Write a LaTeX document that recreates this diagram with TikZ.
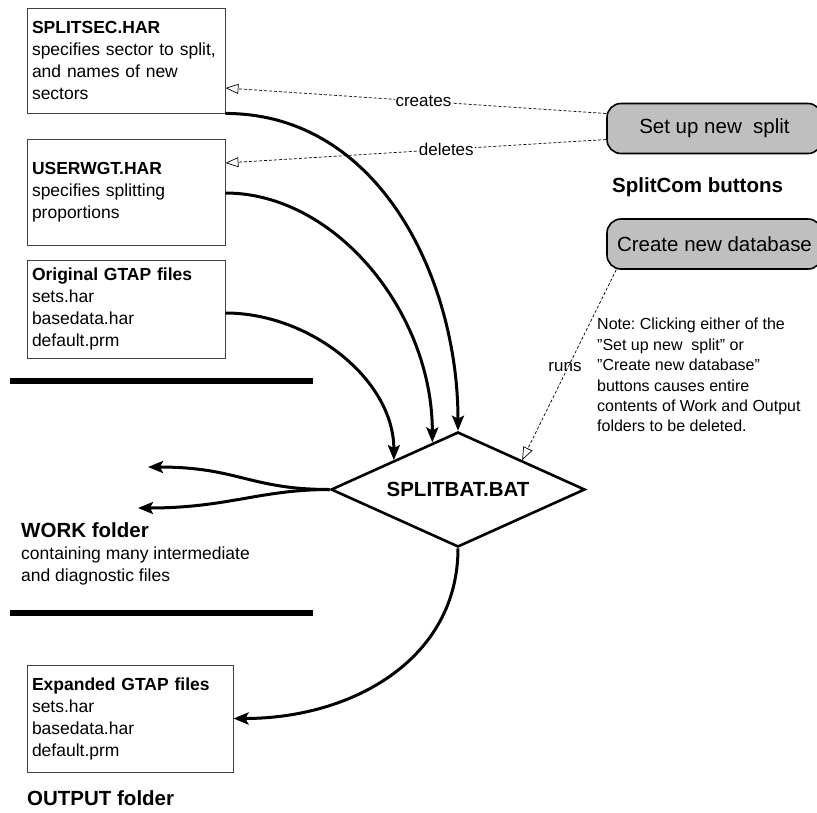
\documentclass[tikz,border=0pt]{standalone}
\usepackage{fontspec}
\setmainfont{Liberation Sans}
\usetikzlibrary{shapes.geometric,arrows.meta,calc}
\frenchspacing
\newcommand{\qq}{\symbol{"22}}
\begin{document}
\begin{tikzpicture}[x=1pt,y=-1pt,
  filebox/.style={draw=black!75, line width=0.9pt, rectangle, inner xsep=5pt, inner ysep=3pt, align=left, font=\fontsize{17.5}{22}\selectfont},
  btn/.style={draw=black, line width=1.6pt, fill=gray!50, rounded corners=14pt, minimum width=215pt, minimum height=50pt, font=\fontsize{20.5}{24}\selectfont},
  flow/.style={line width=3pt, -{Stealth[length=15pt,width=12pt,inset=3pt]}},
  ctl/.style={line width=0.7pt, dash pattern=on 3pt off 2pt, -{Triangle[open,length=13pt,width=10pt]}},
  lbl/.style={fill=white, inner sep=1pt, font=\fontsize{17}{20}\selectfont},
  heading/.style={font=\bfseries\fontsize{20.5}{24}\selectfont, anchor=west, inner sep=0pt},
  plain/.style={font=\fontsize{17.5}{22}\selectfont, anchor=west, inner sep=0pt, align=left},
  rulebar/.style={line width=6pt}
]
\useasboundingbox (0,0) rectangle (817,812);

% file boxes
\node[filebox, text width=188pt, minimum height=105pt] (b1) at (126,60.5)
  {\textbf{SPLITSEC.HAR}\\specifies sector to split,\\and names of new\\sectors};
\node[filebox, text width=188pt, minimum height=106pt] (b2) at (126,192)
  {\textbf{USERWGT.HAR}\\specifies splitting\\proportions};
\node[filebox, text width=188pt, minimum height=98pt] (b3) at (126,309)
  {\textbf{Original GTAP files}\\sets.har\\basedata.har\\default.prm};
\node[filebox, text width=196pt, minimum height=107pt] (b4) at (130,718.5)
  {\textbf{Expanded GTAP files}\\sets.har\\basedata.har\\default.prm};

% buttons
\node[btn] (setup) at (714.5,128.5) {Set up new\ \ split};
\node[btn] (create) at (714.5,244) {Create new database};
\node[heading] (sc) at (612,187) {SplitCom buttons};

% diamond
\node[diamond, draw, line width=2.6pt, aspect=2.2, minimum width=254pt, minimum height=115pt, inner sep=0pt,
  font=\bfseries\fontsize{20.5}{24}\selectfont] (sb) at (458,489.5) {SPLITBAT.BAT};

% separators
\coordinate (r1a) at (10,381); \coordinate (r1b) at (313,381);
\coordinate (r2a) at (10,613); \coordinate (r2b) at (313,613);
\draw[rulebar] (r1a) -- (r1b);
\draw[rulebar] (r2a) -- (r2b);

% text
\node[heading] (work) at (21,530) {WORK folder};
\node[plain] (worksub) at (21,566) {containing many intermediate\\and diagnostic files};
\node[heading] (out) at (27,798) {OUTPUT folder};
\node[anchor=north west, inner sep=0pt, align=left, font=\fontsize{16}{20.4}\selectfont] (note) at (597,318)
  {Note: Clicking either of the\\\qq Set up new\ \ split\qq{} or\\\qq Create new database\qq\\buttons causes entire\\contents of Work and Output\\folders to be deleted.};

% control (dashed) arrows
\draw[ctl] ([yshift=15pt]setup.west) -- node[lbl, pos=0.48] (lc) {creates} ([yshift=-27.5pt]b1.east);
\draw[ctl] ([yshift=-11pt]setup.west) -- node[lbl, pos=0.42] (ld) {deletes} ([yshift=29pt]b2.east);
\coordinate (rn) at ($(sb.north)!0.5!(sb.east)$);
\draw[ctl] ([xshift=10pt]create.south west) -- (rn);
\node[lbl, fill=none] (lr) at (565,367) {runs};

% flow arrows
\coordinate (e2) at ($(sb.north)!0.2!(sb.west)$);
\coordinate (e3) at ($(sb.north)!0.5!(sb.west)$);
\draw[flow] (b1.south east) .. controls +(155,0) and +(0,-150) .. (sb.north);
\draw[flow] ([yshift=-1pt]b2.east) .. controls +(110,0) and +(0,-130) .. (e2);
\draw[flow] ([yshift=-4pt]b3.east) .. controls +(85,0) and +(0,-80) .. (e3);

\coordinate (w1) at (148,467);
\coordinate (w2) at (138,508);
\draw[flow] (sb.west) .. controls +(-80,0) and +(90,0) .. (w1);
\draw[flow] (sb.west) .. controls +(-70,0) and +(90,0) .. (w2);

\draw[flow] (sb.south) .. controls +(0,110) and +(120,0) .. (b4.east);
\end{tikzpicture}
\end{document}
